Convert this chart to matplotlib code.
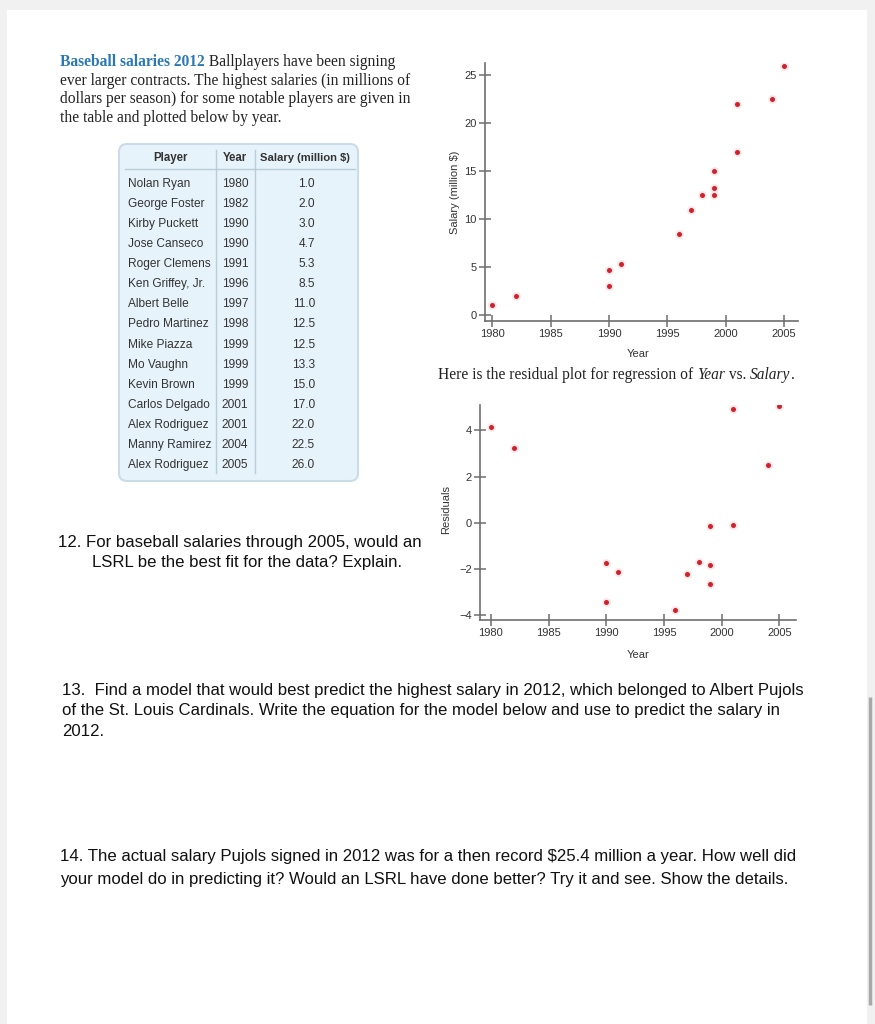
import numpy as np
import matplotlib
matplotlib.use("Agg")
import matplotlib.pyplot as plt
from matplotlib.patches import FancyBboxPatch, Rectangle

players = ["Nolan Ryan", "George Foster", "Kirby Puckett", "Jose Canseco",
           "Roger Clemens", "Ken Griffey, Jr.", "Albert Belle", "Pedro Martinez",
           "Mike Piazza", "Mo Vaughn", "Kevin Brown", "Carlos Delgado",
           "Alex Rodriguez", "Manny Ramirez", "Alex Rodriguez"]
years = [1980, 1982, 1990, 1990, 1991, 1996, 1997, 1998, 1999, 1999, 1999,
         2001, 2001, 2004, 2005]
salary = [1.0, 2.0, 3.0, 4.7, 5.3, 8.5, 11.0, 12.5, 12.5, 13.3, 15.0,
          17.0, 22.0, 22.5, 26.0]
# residuals
residuals = [4.16, 3.23, -3.46, -1.77, -2.15, -3.77, -2.23, -1.69, -2.65,
             -1.84, -0.16, -0.10, 4.91, 2.51, 5.05]

year_ticks = [1980, 1985, 1990, 1995, 2000, 2005]
salary_ticks = [0, 5, 10, 15, 20, 25]
resid_ticks = [-4, -2, 0, 2, 4]

W, H = 875, 1024
fig = plt.figure(figsize=(W / 100, H / 100), dpi=100)
fig.patch.set_facecolor('#f1f1f1')

serif = ['Liberation Serif', 'DejaVu Serif']
sans = ['Liberation Sans', 'DejaVu Sans']
red = '#d0222e'
axcol = '#6e6e6e'
txt = '#333333'

# page overlay in pixel coordinates
page = fig.add_axes([0, 0, 1, 1])
page.set_xlim(0, W)
page.set_ylim(H, 0)
page.axis('off')
page.add_patch(Rectangle((7, 10), 860, 1020, facecolor='white', edgecolor='none'))
page.plot([870, 870], [697, 1005], color='#a8a8a8', lw=2.5, solid_capstyle='butt')

renderer = fig.canvas.get_renderer()


def text_run(x, y, pieces, size=11.2):
    # pieces: (string, weight, style, colour), drawn one after another
    for s, weight, style, col in pieces:
        t = page.text(x, y, s, fontsize=size, family=serif, fontweight=weight,
                      fontstyle=style, color=col, va='center')
        x = t.get_window_extent(renderer).x1


# intro paragraph
text_run(60, 62, [("Baseball salaries 2012", 'bold', 'normal', '#2b78b5'),
                  (" Ballplayers have been signing", 'normal', 'normal', '#222222')])
para = ["ever larger contracts. The highest salaries (in millions of",
        "dollars per season) for some notable players are given in",
        "the table and plotted below by year."]
for i, line in enumerate(para):
    page.text(60, 80.7 + i * 18.4, line, fontsize=11.2, family=serif,
              color='#222222', va='center')

text_run(438, 375, [("Here is the residual plot for regression of ", 'normal', 'normal', '#222222'),
                    ("Year", 'normal', 'italic', '#222222'),
                    (" vs. ", 'normal', 'normal', '#222222'),
                    ("Salary", 'normal', 'italic', '#222222'),
                    (".", 'normal', 'normal', '#222222')])

# table
page.add_patch(FancyBboxPatch((119, 144), 239, 337,
                              boxstyle="round,pad=0,rounding_size=8",
                              facecolor='#e7f3fa', edgecolor='#c9dce8', lw=1.5))
page.text(170, 158, "Player", fontsize=8.3, family=sans, fontweight='bold',
          color=txt, ha='center', va='center')
page.text(235, 158, "Year", fontsize=8.3, family=sans, fontweight='bold',
          color=txt, ha='center', va='center')
page.text(305, 158, "Salary (million $)", fontsize=8.1, family=sans,
          fontweight='bold', color=txt, ha='center', va='center')
page.plot([125, 355], [168.5, 168.5], color='#b9ccd8', lw=1)
for xv in [216, 255]:
    page.plot([xv, xv], [150, 473], color='#b9ccd8', lw=1)
for i, (p, yr, s) in enumerate(zip(players, years, salary)):
    yy = 184 + i * 20.07
    page.text(128, yy, p, fontsize=8.6, family=sans, color=txt, va='center')
    page.text(235, yy, str(yr), fontsize=8.6, family=sans, color=txt,
              ha='center', va='center')
    page.text(315, yy, "%.1f" % s, fontsize=8.6, family=sans, color=txt,
              ha='right', va='center')

# questions
page.text(58, 543, "12. For baseball salaries through 2005, would an",
          fontsize=12.1, family=sans, color='#111111', va='center')
page.text(92, 562, "LSRL be the best fit for the data? Explain.",
          fontsize=12.1, family=sans, color='#111111', va='center')
q13 = ["13.  Find a model that would best predict the highest salary in 2012, which belonged to Albert Pujols",
       "of the St. Louis Cardinals. Write the equation for the model below and use to predict the salary in",
       "2012."]
for i, line in enumerate(q13):
    page.text(62, 690 + i * 21, line, fontsize=12.1, family=sans,
              color='#111111', va='center')
q14 = ["14. The actual salary Pujols signed in 2012 was for a then record $25.4 million a year. How well did",
       "your model do in predicting it? Would an LSRL have done better? Try it and see. Show the details."]
for i, line in enumerate(q14):
    page.text(60, 857 + i * 22.5, line, fontsize=12.1, family=sans,
              color='#111111', va='center')


def make_axes(left, top, right, bottom):
    ax = fig.add_axes([left / W, 1 - bottom / H, (right - left) / W, (bottom - top) / H])
    ax.patch.set_alpha(0)
    for side in ['top', 'right']:
        ax.spines[side].set_visible(False)
    for side in ['left', 'bottom']:
        ax.spines[side].set_color(axcol)
        ax.spines[side].set_linewidth(1.2)
    ax.tick_params(direction='inout', length=8, width=1.1, color=axcol,
                   labelsize=8, labelcolor=txt, pad=2)
    return ax


def fix_labels(ax):
    for lab in ax.get_xticklabels() + ax.get_yticklabels():
        lab.set_family(sans)


# salary scatter
ax1 = make_axes(485, 63, 798, 321)
ax1.scatter(years, salary, s=40, color='#f6d0d2', alpha=0.5, lw=0, zorder=2)
ax1.scatter(years, salary, s=13, color=red, lw=0, zorder=3)
ax1.set_xlim(1979.37, 2006.2)
ax1.set_ylim(-0.63, 26.3)
ax1.set_xticks(year_ticks)
ax1.set_yticks(salary_ticks)
fix_labels(ax1)
page.text(455, 192, "Salary (million $)", fontsize=8, family=sans, color=txt,
          rotation=90, ha='center', va='center')
page.text(638, 354, "Year", fontsize=8, family=sans, color=txt,
          ha='center', va='center')

# residual plot
ax2 = make_axes(480, 405, 796, 620)
ax2.scatter(years, residuals, s=40, color='#f6d0d2', alpha=0.5, lw=0, zorder=2)
ax2.scatter(years, residuals, s=13, color=red, lw=0, zorder=3)
ax2.set_xlim(1979.05, 2006.45)
ax2.set_ylim(-4.22, 5.1)
ax2.set_xticks(year_ticks)
ax2.set_yticks(resid_ticks)
fix_labels(ax2)
page.text(446, 510, "Residuals", fontsize=8, family=sans, color=txt,
          rotation=90, ha='center', va='center')
page.text(638, 655, "Year", fontsize=8, family=sans, color=txt,
          ha='center', va='center')

fig.savefig("out.png", dpi=100, facecolor=fig.get_facecolor())
